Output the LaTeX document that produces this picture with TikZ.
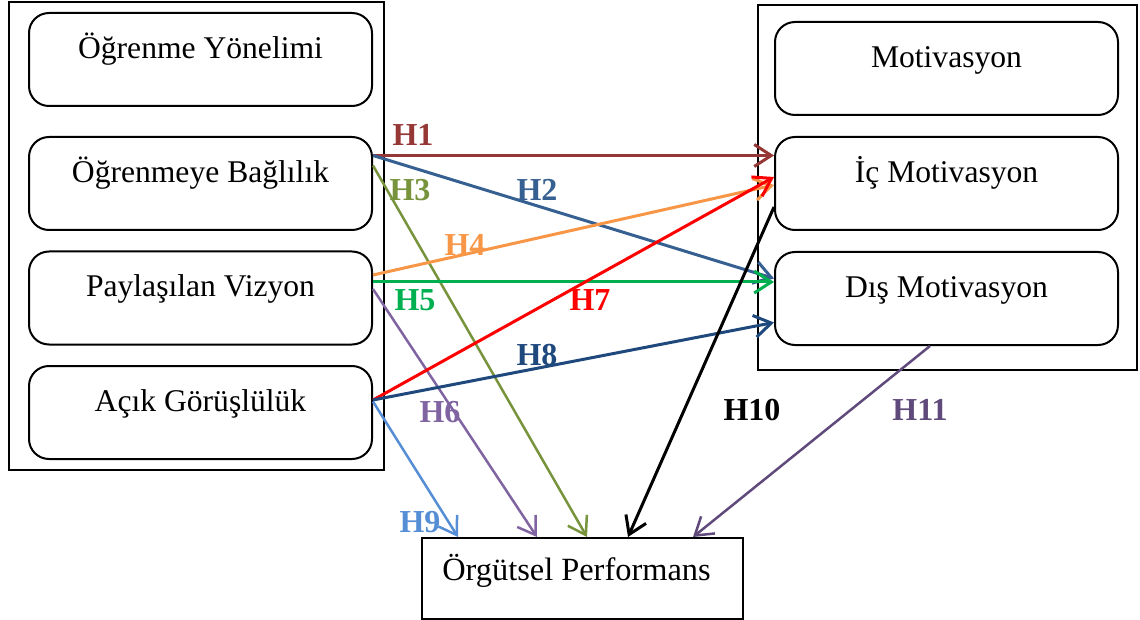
\documentclass[tikz,border=0pt]{standalone}
\usepackage{fontspec}
\setmainfont{Liberation Serif}
\usetikzlibrary{arrows.meta,calc}

\definecolor{cHa}{HTML}{953735}
\definecolor{cHb}{HTML}{376092}
\definecolor{cHc}{HTML}{77933C}
\definecolor{cHd}{HTML}{F79646}
\definecolor{cHe}{HTML}{00B050}
\definecolor{cHf}{HTML}{8064A2}
\definecolor{cHg}{HTML}{FF0000}
\definecolor{cHh}{HTML}{1F497D}
\definecolor{cHi}{HTML}{558ED5}
\definecolor{cHk}{HTML}{604A7B}

\begin{document}
\begin{tikzpicture}[x=0.5pt,y=-0.5pt,
  frame/.style={draw, line width=1pt, inner sep=0pt},
  item/.style={draw, rounded corners=10pt, line width=1pt,
    minimum width=171.5pt, minimum height=46.5pt, inner sep=0pt,
    font=\fontsize{15.8}{19}\selectfont, text height=11pt, text depth=12pt},
  hyp/.style={-{Straight Barb[length=8.5pt,width=11pt]}, line width=1.5pt},
  thin/.style={line width=1.25pt},
  hlab/.style={font=\fontsize{16}{19}\selectfont\bfseries, inner sep=0pt}]
\useasboundingbox (0,0) rectangle (1140,620);

% learning orientation block
\node[frame, minimum width=187.5pt, minimum height=234pt] (lo) at (196.5,236) {};
\node[item] (b1) at (200.5,59.5)  {Öğrenme Yönelimi};
\node[item] (b2) at (200.5,183.5) {Öğrenmeye Bağlılık};
\node[item] (b3) at (200.5,298)   {Paylaşılan Vizyon};
\node[item] (b4) at (200.5,412.5) {Açık Görüşlülük};

% motivation block
\node[frame, minimum width=189.5pt, minimum height=182.5pt] (mo) at (947.5,187.5) {};
\node[item] (r1) at (946.5,68.5)  {Motivasyon};
\node[item] (r2) at (946.5,183.5) {İç Motivasyon};
\node[item] (r3) at (946.5,298.5) {Dış Motivasyon};

% outcome
\node[frame, minimum width=160.5pt, minimum height=40.5pt,
  font=\fontsize{16.2}{19}\selectfont, text height=11pt, text depth=9.5pt] (perf) at (582.5,578.5) {\hspace*{-6pt}Örgütsel Performans};

% hypotheses
\draw[hyp, cHa] ($(b2.east)+(0,-28)$) -- ($(r2.west)+(0,-28)$);
\draw[hyp, cHb] ($(b2.east)+(0,-28)$) -- ($(r3.west)+(0,-20)$);
\draw[hyp, thin, cHc] ($(b2.east)+(0,-18)$) -- ($(perf.north)+(4.5,0)$);
\draw[hyp, cHd] ($(b3.east)+(0,-23)$) -- ($(r2.west)+(0,1.5)$);
\draw[hyp, cHe] ($(b3.east)+(0,-16)$) -- ($(r3.west)+(0,-16.5)$);
\draw[hyp, thin, cHf] ($(b3.east)+(0,-9)$) -- ($(perf.north)+(-45.5,0)$);
\draw[hyp, cHg] ($(b4.east)+(0,-12.5)$) -- ($(r2.west)+(0,-6.5)$);
\draw[hyp, cHh] ($(b4.east)+(0,-12.5)$) -- ($(r3.west)+(0,24)$);
\draw[hyp, thin, cHi] ($(b4.east)+(0,-11)$) -- ($(perf.north)+(-124.5,0)$);
\draw[hyp, black] ($(r2.west)+(0,23.5)$) -- ($(perf.north)+(45.5,0)$);
\draw[hyp, thin, cHk] ($(r3.south)+(-16.5,0)$) -- ($(perf.north)+(110.5,0)$);

% hypothesis labels
\node[hlab, cHa] (l1) at (413,135) {H1};
\node[hlab, cHb] (l2) at (537,190) {H2};
\node[hlab, cHc] (l3) at (410,190) {H3};
\node[hlab, cHd] (l4) at (465,245) {H4};
\node[hlab, cHe] (l5) at (415,300) {H5};
\node[hlab, cHf] (l6) at (440,412) {H6};
\node[hlab, cHg] (l7) at (590,300) {H7};
\node[hlab, cHh] (l8) at (537,355) {H8};
\node[hlab, cHi] (l9) at (420,522) {H9};
\node[hlab, black] (l10) at (752,410) {H10};
\node[hlab, cHk] (l11) at (920,410) {H11};
\end{tikzpicture}
\end{document}
